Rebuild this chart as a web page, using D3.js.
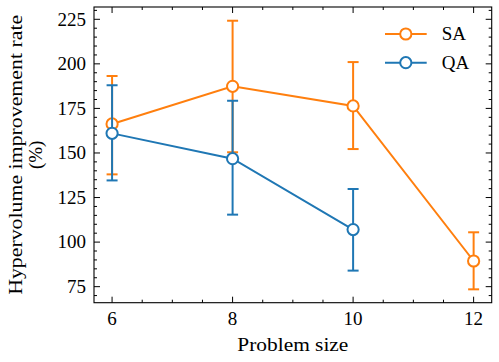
<!DOCTYPE html>
<html>
<head>
<meta charset="utf-8">
<script src="https://cdn.jsdelivr.net/npm/d3@7"></script>
<style>
  html, body { margin: 0; padding: 0; background: #fff; }
  svg { display: block; }
  text { font-family: "Liberation Serif", "DejaVu Serif", serif; fill: #000; }
</style>
</head>
<body>
<svg id="chart" width="499" height="362"></svg>
<script>
// ---- data ----
const problemSizes = [6, 8, 10, 12];
const saMean  = [166.3, 187.4, 176.4, 89.4];
const saLow   = [138.0, 150.4, 152.2, 73.5];
const saHigh  = [193.2, 224.2, 201.0, 105.5];
const qaSizes = [6, 8, 10];
const qaMean  = [161.0, 146.8, 107.0];
const qaLow   = [134.6, 115.4, 84.0];
const qaHigh  = [188.0, 179.3, 129.8];
const xTicks = [6, 8, 10, 12];
const yTicks = [75, 100, 125, 150, 175, 200, 225];
const seriesNames = ["SA", "QA"];
const xLabel = "Problem size";
const yLabelLines = ["Hypervolume improvement rate", "(%)"];

const colors = { SA: "#ff7f0e", QA: "#1f77b4" };

const svg = d3.select("#chart");
const L = 94, R = 491.7, T = 7, B = 302.7;
const x = d3.scaleLinear().domain([5.7, 12.3]).range([L, R]);
const y = d3.scaleLinear().domain([66, 231.9]).range([B, T]);

const series = [
  { name: seriesNames[0], xs: problemSizes, m: saMean, lo: saLow, hi: saHigh },
  { name: seriesNames[1], xs: qaSizes, m: qaMean, lo: qaLow, hi: qaHigh }
];

const plot = svg.append("g");
const lw = 2, capHalf = 5.5, r = 5.6;

series.forEach(s => {
  const c = colors[s.name];
  const g = plot.append("g");
  const pts = s.xs.map((v, i) => ({ x: v, m: s.m[i], lo: s.lo[i], hi: s.hi[i] }));
  // error bars
  pts.forEach(p => {
    g.append("line").attr("x1", x(p.x)).attr("x2", x(p.x)).attr("y1", y(p.lo)).attr("y2", y(p.hi))
      .attr("stroke", c).attr("stroke-width", lw);
    [p.lo, p.hi].forEach(v => {
      g.append("line").attr("x1", x(p.x) - capHalf).attr("x2", x(p.x) + capHalf)
        .attr("y1", y(v)).attr("y2", y(v)).attr("stroke", c).attr("stroke-width", lw);
    });
  });
  // line
  g.append("path").datum(pts)
    .attr("d", d3.line().x(d => x(d.x)).y(d => y(d.m)))
    .attr("fill", "none").attr("stroke", c).attr("stroke-width", lw);
  // markers
  g.selectAll("circle").data(pts).enter().append("circle")
    .attr("cx", d => x(d.x)).attr("cy", d => y(d.m)).attr("r", r)
    .attr("fill", "#fff").attr("stroke", c).attr("stroke-width", lw);
});

// ---- axes (ticks inward on all four sides) ----
const majorLen = 6, minorLen = 3;
const xMinor = d3.range(6, 12.3001, 0.5).filter(v => !xTicks.includes(v));
const yMinor = d3.range(70, 231, 5).filter(v => !yTicks.includes(v));

const axG = svg.append("g").attr("stroke", "#000").attr("stroke-width", 1);
function tickSet(vals, len, isX) {
  vals.forEach(v => {
    if (isX) {
      const px = x(v);
      axG.append("line").attr("x1", px).attr("x2", px).attr("y1", B).attr("y2", B - len);
      axG.append("line").attr("x1", px).attr("x2", px).attr("y1", T).attr("y2", T + len);
    } else {
      const py = y(v);
      axG.append("line").attr("x1", L).attr("x2", L + len).attr("y1", py).attr("y2", py);
      axG.append("line").attr("x1", R).attr("x2", R - len).attr("y1", py).attr("y2", py);
    }
  });
}
tickSet(xTicks, majorLen, true);
tickSet(xMinor, minorLen, true);
tickSet(yTicks, majorLen, false);
tickSet(yMinor, minorLen, false);

svg.append("rect").attr("x", L).attr("y", T).attr("width", R - L).attr("height", B - T)
  .attr("fill", "none").attr("stroke", "#000").attr("stroke-width", 1.1);

// tick labels
svg.append("g").selectAll("text").data(xTicks).enter().append("text")
  .attr("x", d => x(d)).attr("y", 325).attr("text-anchor", "middle")
  .attr("font-size", 19).text(d => d);
svg.append("g").selectAll("text").data(yTicks).enter().append("text")
  .attr("x", 86).attr("y", d => y(d) + 6.3).attr("text-anchor", "end")
  .attr("font-size", 19).text(d => d);

// axis labels
svg.append("text").attr("x", (L + R) / 2).attr("y", 350.5).attr("text-anchor", "middle")
  .attr("font-size", 19).attr("textLength", 111).attr("lengthAdjust", "spacingAndGlyphs").text(xLabel);

const cy = (T + B) / 2;
svg.append("text").attr("transform", `translate(22,${cy}) rotate(-90)`).attr("text-anchor", "middle")
  .attr("font-size", 19).attr("textLength", 280).attr("lengthAdjust", "spacingAndGlyphs").text(yLabelLines[0]);
svg.append("text").attr("transform", `translate(41.5,${cy}) rotate(-90)`).attr("text-anchor", "middle")
  .attr("font-size", 19).text(yLabelLines[1]);

// legend
const legY = [34, 62.7];
series.forEach((s, i) => {
  const c = colors[s.name];
  const g = svg.append("g");
  g.append("line").attr("x1", 385).attr("x2", 426.7).attr("y1", legY[i]).attr("y2", legY[i])
    .attr("stroke", c).attr("stroke-width", lw);
  g.append("circle").attr("cx", 405.8).attr("cy", legY[i]).attr("r", r)
    .attr("fill", "#fff").attr("stroke", c).attr("stroke-width", lw);
  g.append("text").attr("x", 441.7).attr("y", legY[i] + 6.3).attr("font-size", 19).text(s.name);
});
</script>
</body>
</html>
